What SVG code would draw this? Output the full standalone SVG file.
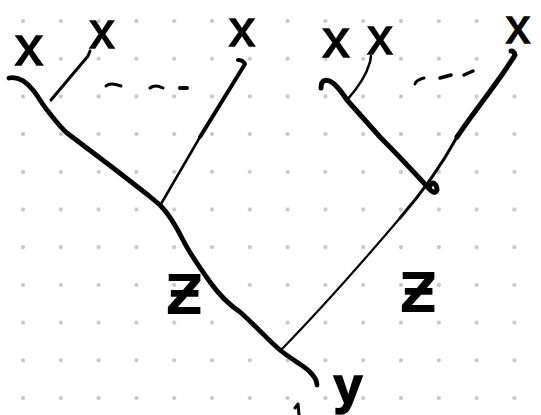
<svg xmlns="http://www.w3.org/2000/svg" width="541" height="415" viewBox="0 0 541 415">
<style>
.ink{fill:none;stroke:#000;stroke-linecap:round;stroke-linejoin:round}
.leaf{font-family:"Liberation Sans",Arial,sans-serif;fill:#000;stroke:#000;stroke-width:1.6;text-anchor:middle}
.lbl{font-family:"DejaVu Sans",sans-serif;fill:#000;stroke:#000;stroke-width:1.8;text-anchor:middle}
</style>
<defs>
<pattern id="dots" patternUnits="userSpaceOnUse" x="4.1" y="2.1" width="37.8" height="37.7">
<circle cx="18.9" cy="18.9" r="2.1" fill="#c6c6c6"/>
</pattern>
</defs>
<rect width="541" height="415" fill="#fff"/>
<rect width="541" height="415" fill="url(#dots)"/>
<g id="connectors">
<path class="ink" stroke-width="4.8" d="M9,78 C20,76 28,84 33,90 S42,104 47,110 S60,127 67,133 L100,158 C120,173 135,185 148,195 L160,205 C168,213 176,226 183,240 C190,254 200,268 210,282 C220,296 228,304 240,312 C255,325 268,340 280,350 C292,360 305,366 310,372 C315,377 317,381 317,385"/>
<path class="ink" stroke-width="2.5" d="M161,204 L200,137"/>
<path class="ink" stroke-width="4" d="M200,137 L245,64 Q243,60 238,60"/>
<path class="ink" stroke-width="3" d="M51,100 L88,56 L90,51"/>
<path class="ink" stroke-width="2.2" d="M281,350 C320,310 360,265 400,218"/>
<path class="ink" stroke-width="3" d="M400,218 C420,195 440,168 457,137"/>
<path class="ink" stroke-width="5" d="M457,137 C475,110 500,80 515,55 Q514,51 511,51"/>
<path class="ink" stroke-width="5" d="M321,88 C321,80 326,78 333,83 C338,87 343,94 347,100 L380,137 C395,152 410,168 423,182 C430,190 435,196 437,190 C437,184 432,180 430,186"/>
<path class="ink" stroke-width="2.5" d="M347,100 Q365,80 370,62 L371,56"/>
<path class="ink" stroke-width="3" d="M106,86 Q110,82 121,86"/>
<path class="ink" stroke-width="3" d="M150,88 Q155,84 163,88"/>
<path class="ink" stroke-width="4" d="M180,88 L187,88"/>
<path class="ink" stroke-width="3" d="M415,84 Q416,80 424,78"/>
<path class="ink" stroke-width="3.5" d="M440,78 L451,75"/>
<path class="ink" stroke-width="3.5" d="M464,75 L473,71"/>
<path class="ink" stroke-width="3" d="M295,408 L298,404 L299,415"/>
</g>
<g id="leaf1"><text class="leaf" x="29" y="65" font-size="56">x</text></g>
<g id="leaf2"><text class="leaf" x="102" y="48" font-size="50">x</text></g>
<g id="leaf3"><text class="leaf" x="242" y="46" font-size="52">x</text></g>
<g id="leaf4"><text class="leaf" x="336" y="57" font-size="54">x</text></g>
<g id="leaf5"><text class="leaf" x="380" y="54" font-size="50">x</text></g>
<g id="leaf6"><text class="leaf" x="518" y="43" font-size="48">x</text></g>
<g id="label-z-left"><text class="lbl" x="184" y="313" font-size="70">ƶ</text></g>
<g id="label-z-right"><text class="lbl" x="418" y="311" font-size="70">ƶ</text></g>
<g id="label-y"><text class="leaf" x="348" y="403" font-size="52" font-weight="bold">y</text></g>
</svg>
